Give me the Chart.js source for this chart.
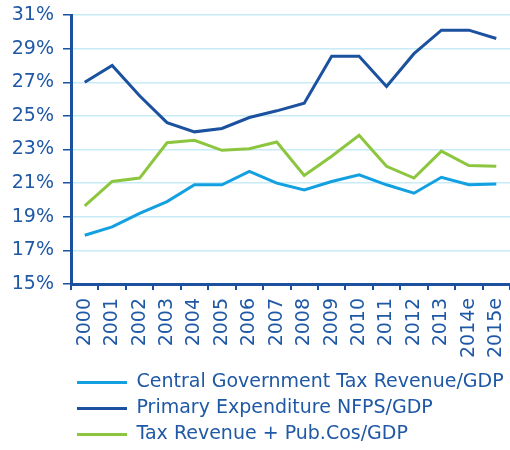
<!DOCTYPE html>
<html>
<head>
<meta charset="utf-8">
<script src="https://cdn.jsdelivr.net/npm/chart.js@4"></script>
<style>
  html, body { margin: 0; padding: 0; background: #fff; }
</style>
</head>
<body>
<canvas id="fiscalChart" width="510" height="450"></canvas>
<script>
// Years on the x axis
const years = ['2000', '2001', '2002', '2003', '2004', '2005', '2006', '2007',
               '2008', '2009', '2010', '2011', '2012', '2013', '2014e', '2015e'];

// Values in % of GDP
const centralTaxRevenue = [17.9, 18.4, 19.2, 19.9, 20.9, 20.9, 21.7, 21.0,
                           20.6, 21.1, 21.5, 20.9, 20.4, 21.35, 20.9, 20.95];
const primaryExpenditure = [27.0, 28.0, 26.2, 24.6, 24.05, 24.25, 24.9, 25.3,
                            25.75, 28.55, 28.55, 26.75, 28.7, 30.1, 30.1, 29.6];
const taxPlusPubCos = [19.65, 21.1, 21.3, 23.4, 23.55, 22.95, 23.05, 23.45,
                       21.45, 22.6, 23.85, 22.0, 21.3, 22.9, 22.05, 22.0];

// Y axis range and steps
const yMin = 15;
const yMax = 31;
const yStep = 2;

const navy = '#1b519f';
const textBlue = '#1f58a5';
const lightBlue = '#12a0e0';
const green = '#8cc63f';
const gridBlue = '#c8ebf8';
const font = 'DejaVu Sans';

// move the legend right (under the plot) and pin its first row
const legendShift = {
    id: 'legendShift',
    afterLayout(chart) {
        chart.legend.left += 70;
        chart.legend.top = 366;
    }
};

const ctx = document.getElementById('fiscalChart').getContext('2d');
const fiscalChart = new Chart(ctx, {
    type: 'line',
    data: {
        labels: years,
        datasets: [
            {
                label: 'Central Government Tax Revenue/GDP',
                data: centralTaxRevenue,
                borderColor: lightBlue,
                backgroundColor: lightBlue,
                borderWidth: 3,
                pointRadius: 0,
                tension: 0
            },
            {
                label: 'Primary Expenditure NFPS/GDP',
                data: primaryExpenditure,
                borderColor: navy,
                backgroundColor: navy,
                borderWidth: 3,
                pointRadius: 0,
                tension: 0
            },
            {
                label: 'Tax Revenue + Pub.Cos/GDP',
                data: taxPlusPubCos,
                borderColor: green,
                backgroundColor: green,
                borderWidth: 3,
                pointRadius: 0,
                tension: 0
            }
        ]
    },
    options: {
        responsive: false,
        animation: false,
        layout: {
            padding: { top: 15, right: 0, bottom: 0, left: 0 }
        },
        plugins: {
            tooltip: { enabled: false },
            legend: {
                position: 'bottom',
                align: 'start',
                labels: {
                    usePointStyle: true,
                    pointStyle: 'line',
                    pointStyleWidth: 50,
                    padding: 7,
                    color: textBlue,
                    font: { family: font, size: 19 }
                }
            }
        },
        scales: {
            x: {
                offset: true,
                afterFit: s => {
                    s.height = 78;
                    s.paddingLeft = 0;
                    s.paddingRight = 0;
                },
                border: { color: navy, width: 3 },
                grid: {
                    offset: true,
                    drawOnChartArea: false,
                    tickColor: navy,
                    tickLength: 6,
                    lineWidth: 2
                },
                ticks: {
                    autoSkip: false,
                    minRotation: 90,
                    maxRotation: 90,
                    padding: 8,
                    color: textBlue,
                    font: { family: font, size: 19 }
                }
            },
            y: {
                min: yMin,
                max: yMax,
                afterFit: s => {
                    s.width = 71;
                    s.paddingTop = 0;
                    s.paddingBottom = 0;
                },
                border: { color: navy, width: 3 },
                grid: {
                    color: gridBlue,
                    lineWidth: 1.5,
                    tickColor: navy,
                    tickLength: 8
                },
                ticks: {
                    stepSize: yStep,
                    padding: 9,
                    color: textBlue,
                    font: { family: font, size: 19 },
                    callback: v => v + '%'
                }
            }
        }
    },
    plugins: [legendShift]
});
</script>
</body>
</html>
